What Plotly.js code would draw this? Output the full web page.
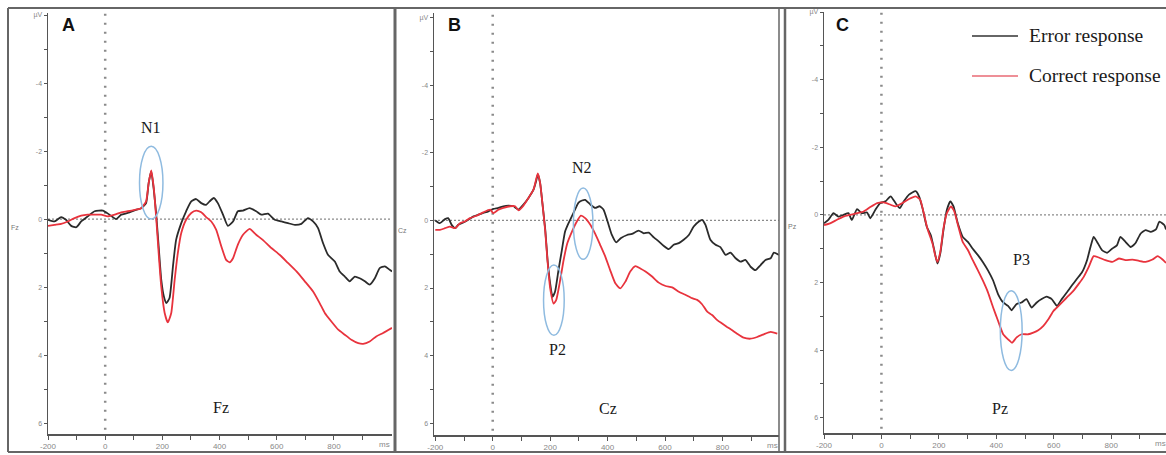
<!DOCTYPE html>
<html><head><meta charset="utf-8">
<script src="https://cdn.plot.ly/plotly-3.0.1.min.js"></script>
<style>html,body{margin:0;padding:0;background:#fff;}#chart{width:1166px;height:455px;}</style>
</head><body><div id="chart"></div>
<script>
// ---------- DATA (ms, µV; negative plotted upward) ----------
const fzErrTime = [-200,-177,-154,-137,-119,-101,-84,-61,-37,-8,15,38,56,79,108,126,143,152,161,170,178,187,196,205,214,225,237,248,266,283,301,318,336,353,365,380,394,412,429,447,464,482,505,528,546,569,593,616,639,663,686,709,727,744,762,779,803,820,838,855,873,890,908,925,943,960,978,995,1003];
const fzError = [0.02,0.07,-0.06,0.02,0.2,0.24,0.07,-0.08,-0.23,-0.25,-0.13,0,-0.13,-0.18,-0.27,-0.32,-0.47,-1.06,-1.40,-0.86,-0.18,0.80,1.78,2.27,2.47,2.32,1.39,0.61,0.12,-0.23,-0.52,-0.59,-0.47,-0.42,-0.52,-0.62,-0.47,-0.13,0.2,0.07,-0.23,-0.25,-0.32,-0.23,-0.13,-0.16,0.02,0.07,0.12,0.17,0.14,-0.03,0.07,0.26,0.71,1.05,1.25,1.54,1.69,1.83,1.69,1.74,1.83,1.93,1.74,1.44,1.39,1.49,1.54];
const fzCorTime = [-200,-177,-154,-131,-107,-84,-61,-37,-14,9,33,56,79,103,126,143,152,161,170,178,187,196,208,219,231,243,254,266,283,301,318,336,353,371,388,406,423,435,447,464,482,505,528,551,581,610,639,669,698,727,750,768,791,815,838,861,885,902,925,948,972,1003];
const fzCorrect = [0.2,0.17,0.14,0.07,-0.03,-0.1,-0.13,-0.13,-0.13,-0.08,-0.13,-0.2,-0.23,-0.27,-0.32,-0.52,-1.06,-1.43,-0.91,-0.08,1.0,1.98,2.76,3.04,2.76,1.78,1.0,0.41,0.02,-0.18,-0.25,-0.2,-0.06,0.07,0.31,0.8,1.2,1.27,1.15,0.75,0.46,0.29,0.46,0.61,0.85,1.05,1.29,1.54,1.83,2.13,2.47,2.76,3.01,3.25,3.4,3.55,3.65,3.67,3.6,3.45,3.35,3.2];

const czErrTime = [-200,-184,-166,-155,-143,-131,-120,-102,-85,-67,-50,-33,-15,2,20,37,55,72,90,107,124,142,151,157,165,173,183,191,200,208,217,229,241,252,264,281,299,311,322,340,357,372,386,400,415,430,447,468,485,508,526,543,561,578,595,613,630,648,665,683,700,718,729,741,758,776,793,811,828,846,863,880,898,915,933,950,968,979,997];
const czError = [0,0.08,-0.04,-0.07,0.13,0.23,0.13,0.06,-0.02,-0.12,-0.17,-0.22,-0.27,-0.34,-0.37,-0.42,-0.44,-0.42,-0.32,-0.47,-0.66,-0.91,-1.16,-1.36,-1.11,-0.51,0.28,1.17,1.86,2.26,2.11,1.47,0.87,0.33,0.08,-0.22,-0.53,-0.59,-0.61,-0.47,-0.37,-0.42,-0.32,0.03,0.43,0.65,0.52,0.43,0.4,0.3,0.38,0.36,0.5,0.62,0.75,0.85,0.72,0.67,0.57,0.43,0.18,0.03,-0.02,0.13,0.57,0.72,0.79,1.02,0.95,1.12,1.22,1.17,1.37,1.47,1.32,1.17,1.12,0.95,1.02];
const czCorTime = [-200,-184,-166,-149,-131,-114,-97,-79,-56,-33,-9,2,20,37,60,78,90,107,124,142,157,165,173,183,191,200,212,221,233,247,260,276,293,307,322,340,357,374,392,409,427,444,462,479,497,514,532,555,578,602,625,648,671,694,712,729,747,764,782,799,816,834,851,874,898,921,944,968,991];
const czCorrect = [0.28,0.28,0.23,0.18,0.23,0.08,0.03,-0.07,-0.14,-0.24,-0.32,-0.22,-0.32,-0.37,-0.42,-0.42,-0.3,-0.44,-0.66,-0.91,-1.39,-1.11,-0.51,0.33,1.22,2.0,2.46,2.36,1.86,1.17,0.67,0.33,0.03,-0.14,-0.07,0.13,0.4,0.72,1.07,1.47,1.86,2.01,1.81,1.51,1.35,1.42,1.51,1.66,1.84,1.94,1.98,2.11,2.2,2.3,2.35,2.48,2.7,2.8,2.95,3.05,3.15,3.25,3.35,3.47,3.5,3.45,3.37,3.3,3.35];

const pzErrTime = [-200,-185,-167,-150,-132,-115,-103,-85,-68,-50,-39,-21,-4,14,32,49,64,78,96,119,131,143,158,172,184,195,205,216,228,240,251,266,283,301,318,336,353,371,389,406,424,441,453,470,488,505,523,541,558,575,593,611,628,646,663,681,699,716,728,739,751,768,786,803,820,832,850,868,885,903,920,938,956,968,985,991];
const pzError = [0.25,0.15,-0.05,0.05,0,-0.05,0.15,-0.17,-0.05,-0.07,0.1,-0.15,-0.35,-0.4,-0.55,-0.35,-0.2,-0.4,-0.6,-0.7,-0.55,-0.2,0.35,0.6,1.04,1.44,1.14,0.45,-0.15,-0.4,-0.25,0.25,0.65,0.8,1.0,1.19,1.39,1.64,1.94,2.34,2.59,2.69,2.82,2.64,2.59,2.49,2.74,2.59,2.49,2.42,2.49,2.69,2.49,2.29,2.09,1.89,1.69,1.34,0.95,0.65,0.8,1.04,1.12,1.0,0.9,0.65,0.8,0.95,0.83,0.55,0.45,0.5,0.43,0.2,0.3,0.43];
const pzCorTime = [-200,-179,-156,-132,-109,-85,-62,-39,-15,8,32,49,73,96,119,135,146,160,178,187,195,205,216,228,242,254,268,283,301,318,336,353,371,389,406,424,441,455,470,488,511,529,546,564,582,599,617,634,652,669,687,704,722,739,757,780,804,827,850,874,897,920,944,962,979,991];
const pzCorrect = [0.3,0.25,0.15,0.05,0,-0.05,-0.1,-0.23,-0.35,-0.37,-0.3,-0.25,-0.35,-0.47,-0.55,-0.45,-0.1,0.4,0.85,1.19,1.39,1.09,0.4,-0.05,-0.25,-0.1,0.35,0.8,1.04,1.34,1.64,1.94,2.29,2.74,3.13,3.53,3.68,3.78,3.63,3.53,3.53,3.48,3.41,3.28,3.08,2.84,2.69,2.54,2.39,2.24,2.04,1.84,1.54,1.22,1.26,1.34,1.39,1.29,1.34,1.32,1.36,1.39,1.32,1.22,1.32,1.42];

// component marker ellipses: [ms0, ms1, µV0, µV1]
const n1Ellipse = [120, 202, -2.14, 0.0];
const p2Ellipse = [177, 249, 1.32, 3.4];
const n2Ellipse = [281, 349, -0.96, 1.15];
const p3Ellipse = [414, 490, 2.24, 4.6];

const xTickVals = [-200,-100,0,100,200,300,400,500,600,700,800,900];
const xTickText = ['-200','','0','','200','','400','','600','','800',''];
const yTickVals = [-6,-5,-4,-3,-2,-1,0,1,2,3,4,5,6];
const yTickText = ['µV','','-4','','-2','','0','','2','','4','','6'];
const seriesNames = ['Error response','Correct response'];
const panelLetters = ['A','B','C'];
const channels = ['Fz','Cz','Pz'];

// ---------- LAYOUT ----------
const W = 1166, H = 455;
const px = x => x / W, py = y => 1 - y / H;
const ERR = '#2b2b2b', COR = '#e8333d', ELL = '#8fbbe0';

function xa(d0, d1, r){
  return {domain:[px(d0), px(d1)], range:r, autorange:false, showgrid:false, zeroline:false,
    showline:true, linecolor:'#555', linewidth:1.5, ticks:'outside', ticklen:4, tickwidth:1, tickcolor:'#555',
    tickmode:'array', tickvals:xTickVals, ticktext:xTickText,
    tickfont:{family:'Liberation Sans', size:8, color:'#888'}, fixedrange:true};
}
function ya(top, bot, r, anchor){
  return {domain:[py(bot), py(top)], range:r, autorange:false, showgrid:false, zeroline:false,
    showline:true, linecolor:'#555', linewidth:1.5, ticks:'outside', ticklen:3, tickwidth:1, tickcolor:'#555',
    tickmode:'array', tickvals:yTickVals, ticktext:yTickText, anchor:anchor,
    tickfont:{family:'Liberation Sans', size:7, color:'#888'}, fixedrange:true};
}

const panels = [
  {xa:'x', ya:'y', et:fzErrTime, e:fzError, ct:fzCorTime, c:fzCorrect},
  {xa:'x2', ya:'y2', et:czErrTime, e:czError, ct:czCorTime, c:czCorrect},
  {xa:'x3', ya:'y3', et:pzErrTime, e:pzError, ct:pzCorTime, c:pzCorrect}
];
const traces = [];
panels.forEach(p => {
  traces.push({x:p.et, y:p.e, xaxis:p.xa, yaxis:p.ya, type:'scatter', mode:'lines', name:seriesNames[0],
    line:{color:ERR, width:1.8, shape:'spline', smoothing:0.5}, showlegend:false, hoverinfo:'skip'});
  traces.push({x:p.ct, y:p.c, xaxis:p.xa, yaxis:p.ya, type:'scatter', mode:'lines', name:seriesNames[1],
    line:{color:COR, width:1.8, shape:'spline', smoothing:0.5}, showlegend:false, hoverinfo:'skip'});
});

const shapes = [];
// frames
const fr = {color:'#666', width:2};
shapes.push({type:'line', xref:'paper', yref:'paper', x0:px(8), x1:1, y0:py(8), y1:py(8), line:fr});
shapes.push({type:'line', xref:'paper', yref:'paper', x0:px(8), x1:1, y0:py(452), y1:py(452), line:fr});
[[8,2],[395,3],[779,1.5],[785,2.5]].forEach(v => shapes.push({type:'line', xref:'paper', yref:'paper',
  x0:px(v[0]), x1:px(v[0]), y0:py(8), y1:py(452), line:{color:'#666', width:v[1]}}));
// dotted reference lines
['','2','3'].forEach(s => {
  shapes.push({type:'line', xref:'x'+s, yref:'y'+s+' domain', x0:0, x1:0, y0:0.01, y1:1, layer:'below',
    line:{color:'#8a8a8a', width:2.5, dash:'2px,7px'}});
  shapes.push({type:'line', xref:'x'+s+' domain', yref:'y'+s, x0:0, x1:1, y0:0, y1:0, layer:'below',
    line:{color:'#8a8a8a', width:1.3, dash:'2px,2px'}});
});
// ellipses
[[n1Ellipse,''],[p2Ellipse,'2'],[n2Ellipse,'2'],[p3Ellipse,'3']].forEach(e => shapes.push({
  type:'circle', xref:'x'+e[1], yref:'y'+e[1], x0:e[0][0], x1:e[0][1], y0:e[0][2], y1:e[0][3],
  line:{color:ELL, width:1.5}}));
// legend lines
shapes.push({type:'line', xref:'paper', yref:'paper', x0:px(972), x1:px(1018), y0:py(36), y1:py(36), line:{color:'#333', width:1.5}});
shapes.push({type:'line', xref:'paper', yref:'paper', x0:px(972), x1:px(1018), y0:py(76), y1:py(76), line:{color:'#e86a74', width:1.5}});

const serif = {family:'Liberation Serif', size:16, color:'#1a1a1a'};
const ann = [];
const txt = (xr, yr, x, y, t, f, xanchor) => ann.push({xref:xr, yref:yr, x:x, y:y, text:t, showarrow:false,
  font:f, xanchor:xanchor||'center', yanchor:'middle'});
// panel letters
[[68,25],[455,25],[842,25]].forEach((p,i) => txt('paper','paper',px(p[0]),py(p[1]),panelLetters[i],
  {family:'Liberation Sans', size:18, color:'#111', weight:700}));
// component labels
txt('x','y',161,-2.68,'N1',serif);
txt('x','y',406,5.53,channels[0],serif);
txt('x2','y2',311,-1.56,'N2',serif);
txt('x2','y2',227,3.82,'P2',serif);
txt('x2','y2',401,5.58,channels[1],serif);
txt('x3','y3',487,1.31,'P3',serif);
txt('x3','y3',413,5.74,channels[2],serif);
// small channel labels by y axes
const small = {family:'Liberation Sans', size:7, color:'#777'};
txt('paper','paper',px(15),py(227),channels[0],small);
txt('paper','paper',px(403),py(230),channels[1],small);
txt('paper','paper',px(792),py(226),channels[2],small);
// 'ms' unit labels
const msF = {family:'Liberation Sans', size:8, color:'#888'};
txt('paper','paper',px(384),py(444),'ms',msF);
txt('paper','paper',px(772),py(445),'ms',msF);
txt('paper','paper',px(1160),py(443),'ms',msF);
// legend text
const legF = {family:'Liberation Serif', size:19.5, color:'#1a1a1a'};
txt('paper','paper',px(1027),py(36),seriesNames[0],legF,'left');
txt('paper','paper',px(1027),py(76),seriesNames[1],legF,'left');

const layout = {
  width:W, height:H, margin:{l:0,r:0,t:0,b:0}, paper_bgcolor:'#fff', plot_bgcolor:'rgba(0,0,0,0)',
  showlegend:false,
  xaxis: Object.assign(xa(48, 392, [-200, 1003]), {anchor:'y'}),
  yaxis: ya(13, 434, [6.32, -6.06], 'x'),
  xaxis2: Object.assign(xa(434, 779, [-204.5, 997]), {anchor:'y2'}),
  yaxis2: ya(13, 435, [6.35, -6.14], 'x2'),
  xaxis3: Object.assign(xa(824, 1166, [-200, 991]), {anchor:'y3'}),
  yaxis3: ya(12, 433, [6.45, -6.0], 'x3'),
  shapes:shapes, annotations:ann
};
Plotly.newPlot('chart', traces, layout, {staticPlot:true, displayModeBar:false});
</script></body></html>
